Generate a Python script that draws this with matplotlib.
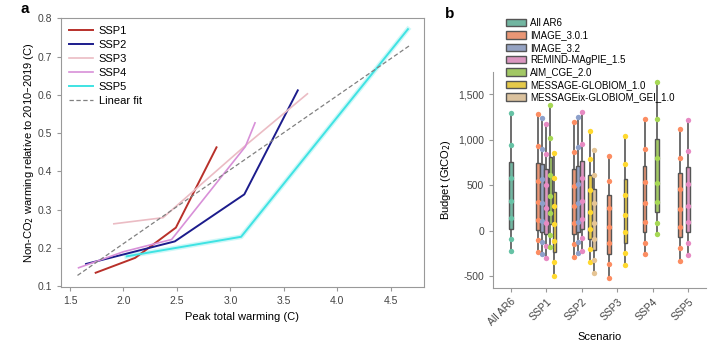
#!/usr/bin/env python3


# +
# import(s)
# -
import colorsys
import matplotlib
matplotlib.use('Agg')
import matplotlib.pyplot as plt
from matplotlib.patches import Patch
from matplotlib.ticker import FuncFormatter
import numpy as np


# +
# constant(s)
# -
plt.rcParams['font.family'] = ['Liberation Sans', 'DejaVu Sans']
plt.rcParams['font.size'] = 7.5

# panel a: peak total warming vs non-CO2 warming
SSP_NAMES = ['SSP1', 'SSP2', 'SSP3', 'SSP4', 'SSP5']
SSP_COLORS = ['#b8302a', '#1c1c8c', '#ebbcc4', '#d890d8', '#3fe3e3']
SSP1_X = [1.74, 2.11, 2.49, 2.87]
SSP1_Y = [0.135, 0.174, 0.253, 0.463]
SSP2_X = [1.65, 2.48, 3.13, 3.63]
SSP2_Y = [0.158, 0.217, 0.340, 0.612]
SSP3_X = [1.91, 2.37, 3.15, 3.72]
SSP3_Y = [0.263, 0.279, 0.470, 0.603]
SSP4_X = [1.58, 2.00, 2.45, 3.14, 3.23]
SSP4_Y = [0.148, 0.190, 0.222, 0.465, 0.527]
SSP5_X = [2.03, 3.10, 4.66]
SSP5_Y = [0.178, 0.229, 0.772]
FIT_X = [1.57, 4.67]
FIT_Y = [0.128, 0.728]

# panel b: budgets per scenario and model
SCENARIOS = ['All AR6', 'SSP1', 'SSP2', 'SSP3', 'SSP4', 'SSP5']
MODELS = ['All AR6', 'IMAGE_3.0.1', 'IMAGE_3.2', 'REMIND-MAgPIE_1.5',
          'AIM_CGE_2.0', 'MESSAGE-GLOBIOM_1.0', 'MESSAGEix-GLOBIOM_GEI_1.0']
MODEL_COLORS = ['#66c2a5', '#fc8d62', '#8da0cb', '#e78ac3', '#a6d854', '#ffd92f', '#e5c494']
BUDGETS = {
    ('All AR6', 'All AR6'): [1290, 945, 575, 325, 135, -95, -228],
    ('SSP1', 'IMAGE_3.0.1'): [1280, 935, 550, 315, 120, -105, -235],
    ('SSP1', 'IMAGE_3.2'): [1235, 898, 568, 300, 108, -130, -262],
    ('SSP1', 'REMIND-MAgPIE_1.5'): [1175, 845, 505, 250, 85, -165, -300],
    ('SSP1', 'AIM_CGE_2.0'): [1378, 1015, 612, 381, 191, -47, -176],
    ('SSP1', 'MESSAGE-GLOBIOM_1.0'): [857, 582, 274, 72, -119, -345, -503],
    ('SSP2', 'IMAGE_3.0.1'): [1190, 860, 496, 270, 79, -149, -286],
    ('SSP2', 'IMAGE_3.2'): [1253, 917, 511, 300, 99, -121, -250],
    ('SSP2', 'REMIND-MAgPIE_1.5'): [1301, 953, 579, 330, 125, -84, -220],
    ('SSP2', 'MESSAGE-GLOBIOM_1.0'): [1100, 785, 445, 209, 20, -201, -340],
    ('SSP2', 'MESSAGEix-GLOBIOM_GEI_1.0'): [887, 612, 308, 81, -95, -322, -468],
    ('SSP3', 'IMAGE_3.0.1'): [824, 545, 246, 37, -140, -365, -520],
    ('SSP3', 'MESSAGE-GLOBIOM_1.0'): [1041, 730, 395, 173, -18, -245, -377],
    ('SSP4', 'IMAGE_3.0.1'): [1228, 894, 539, 301, 99, -132, -259],
    ('SSP4', 'AIM_CGE_2.0'): [1640, 1228, 796, 528, 319, 88, -40],
    ('SSP5', 'IMAGE_3.0.1'): [1118, 802, 455, 235, 37, -187, -330],
    ('SSP5', 'REMIND-MAgPIE_1.5'): [1217, 879, 513, 275, 92, -132, -267],
}
EDGE = '#555555'


# +
# (hidden) function: _desaturate()
# -
def _desaturate(_hex='#000000', _prop=0.75):
    _r, _g, _b = matplotlib.colors.to_rgb(_hex)
    _h, _l, _s = colorsys.rgb_to_hls(_r, _g, _b)
    return colorsys.hls_to_rgb(_h, _l, _s * _prop)


# +
# main()
# -
if __name__ == '__main__':

    fig = plt.figure(figsize=(7.23, 3.62), dpi=100)
    ax_a = fig.add_axes([0.0844, 0.2064, 0.502, 0.7426])
    ax_b = fig.add_axes([0.682, 0.2053, 0.2945, 0.5957])

    # panel a
    _xs = [SSP1_X, SSP2_X, SSP3_X, SSP4_X, SSP5_X]
    _ys = [SSP1_Y, SSP2_Y, SSP3_Y, SSP4_Y, SSP5_Y]
    _lw = [1.4, 1.4, 1.2, 1.2, 1.4]
    for _i in range(len(SSP_NAMES)):
        if SSP_NAMES[_i] == 'SSP5':
            ax_a.plot(_xs[_i], _ys[_i], color=SSP_COLORS[_i], lw=3.5, alpha=0.25, zorder=2)
        ax_a.plot(_xs[_i], _ys[_i], color=SSP_COLORS[_i], lw=_lw[_i], label=SSP_NAMES[_i], zorder=3)
    ax_a.plot(FIT_X, FIT_Y, color='#808080', ls=(0, (3.5, 2)), lw=0.9, label='Linear fit', zorder=4)
    ax_a.set_xlim(1.416, 4.81)
    ax_a.set_ylim(0.097, 0.8)
    ax_a.set_xticks(np.arange(1.5, 4.6, 0.5))
    ax_a.set_yticks(np.arange(0.1, 0.81, 0.1))
    ax_a.xaxis.set_major_formatter(FuncFormatter(lambda v, p: f'{v:.1f}'))
    ax_a.yaxis.set_major_formatter(FuncFormatter(lambda v, p: f'{v:.1f}'))
    ax_a.set_xlabel('Peak total warming (C)', labelpad=4, fontsize=8)
    ax_a.set_ylabel('Non-CO$_2$ warming relative to 2010\u20132019 (C)', labelpad=1, fontsize=8)
    ax_a.legend(loc='upper left', frameon=False, handlelength=2.2, handletextpad=0.5,
                labelspacing=0.35, borderaxespad=0.3, fontsize=8)

    # panel b
    _width = 0.8 / len(MODELS)
    for _si, _sc in enumerate(SCENARIOS):
        for _mi, _md in enumerate(MODELS):
            if (_sc, _md) not in BUDGETS:
                continue
            _v = np.array(BUDGETS[(_sc, _md)])
            _pos = _si if _md == 'All AR6' else _si + (_mi - 3) * _width
            _q1, _med, _q3 = np.percentile(_v, [25, 50, 75])
            ax_b.vlines(_pos, _v.min(), _q1, color=EDGE, lw=1.2, zorder=2)
            ax_b.vlines(_pos, _q3, _v.max(), color=EDGE, lw=1.2, zorder=2)
            ax_b.add_patch(plt.Rectangle((_pos - _width * 0.45, _q1), _width * 0.9, _q3 - _q1,
                                         facecolor=_desaturate(MODEL_COLORS[_mi]), edgecolor=EDGE,
                                         lw=1.0, zorder=3))
            ax_b.hlines(_med, _pos - _width * 0.45, _pos + _width * 0.45, color=EDGE, lw=1.0, zorder=3)
            ax_b.scatter(np.full(len(_v), _pos), _v, s=15, color=MODEL_COLORS[_mi], lw=0, zorder=4)
    ax_b.set_xlim(-0.5, 5.5)
    ax_b.set_ylim(-628, 1745)
    ax_b.set_xticks(range(len(SCENARIOS)))
    ax_b.set_xticklabels(SCENARIOS, rotation=45, ha='right', rotation_mode='anchor')
    ax_b.set_yticks([-500, 0, 500, 1000, 1500])
    ax_b.yaxis.set_major_formatter(FuncFormatter(lambda v, p: f'{int(v):,}'))
    ax_b.set_xlabel('Scenario', labelpad=3, fontsize=8)
    ax_b.set_ylabel('Budget (GtCO$_2$)', labelpad=4, fontsize=8)
    ax_b.spines['top'].set_visible(False)
    ax_b.spines['right'].set_visible(False)
    _handles = [Patch(facecolor=_desaturate(_c), edgecolor=EDGE, lw=1.0) for _c in MODEL_COLORS]
    fig.legend(_handles, MODELS, loc='upper left', bbox_to_anchor=(0.688, 0.975), frameon=False,
               handlelength=2.0, handleheight=0.8, handletextpad=0.5, labelspacing=0.25, fontsize=7)

    # style
    for _ax in (ax_a, ax_b):
        for _s in _ax.spines.values():
            _s.set_color('#999999')
        _ax.tick_params(colors='#999999', labelcolor='#444444', length=3, width=0.8)

    fig.text(0.028, 0.965, 'a', fontsize=11, fontweight='bold')
    fig.text(0.616, 0.95, 'b', fontsize=11, fontweight='bold')

    plt.savefig('out.png', dpi=100)
